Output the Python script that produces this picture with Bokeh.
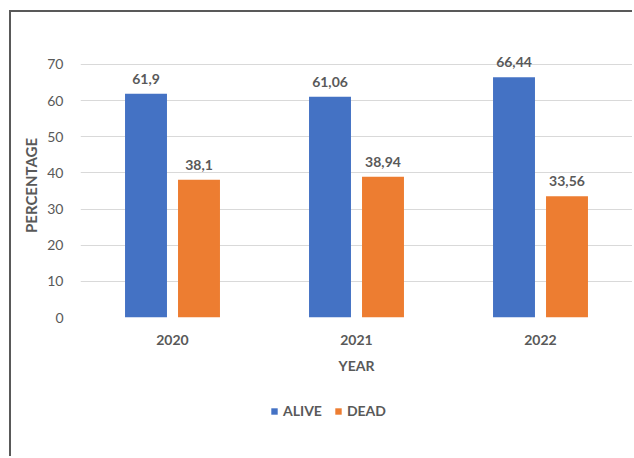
from bokeh.plotting import figure
from bokeh.models import ColumnDataSource, LabelSet, Legend, LegendItem, FactorRange
from bokeh.layouts import column
from bokeh.core.properties import value
from bokeh.transform import dodge
from bokeh.embed import file_html
from bokeh.resources import INLINE

years = ["2020", "2021", "2022"]
alive = [61.9, 61.06, 66.44]
dead = [38.1, 38.94, 33.56]
series = ["ALIVE", "DEAD"]
y_ticks = [0, 10, 20, 30, 40, 50, 60, 70]

BLUE = "#4472C4"
ORANGE = "#ED7D31"
GRAY = "#595959"
FONT = "Lato"
BORDER = "2px solid #595959"

def fmt(v):
    return ("%g" % v).replace(".", ",")

src = ColumnDataSource(dict(
    year=years, alive=alive, dead=dead,
    alive_lbl=[fmt(v) for v in alive], dead_lbl=[fmt(v) for v in dead],
))

p = figure(x_range=FactorRange(*years), y_range=(0, 73),
           width=623, height=373, output_backend="svg", toolbar_location=None,
           min_border_left=69, min_border_right=2, min_border_top=41, min_border_bottom=68)
p.margin = (10, 0, 0, 9)
p.styles = {"border-top": BORDER, "border-left": BORDER}
p.outline_line_color = None
p.background_fill_color = "white"
p.border_fill_color = "white"

off = 0.144
bw = 0.228
p.vbar(x=dodge("year", -off, range=p.x_range), top="alive", width=bw, source=src,
       fill_color=BLUE, line_color=None)
p.vbar(x=dodge("year", off, range=p.x_range), top="dead", width=bw, source=src,
       fill_color=ORANGE, line_color=None)

for col, lbl, o in (("alive", "alive_lbl", -off), ("dead", "dead_lbl", off)):
    ls = LabelSet(x=dodge("year", o, range=p.x_range), y=col, text=lbl, source=src,
                  text_align="center", text_baseline="bottom", y_offset=10,
                  text_font=value(FONT), text_font_style="bold", text_font_size="14px",
                  text_color=GRAY)
    p.add_layout(ls)

p.yaxis.ticker = y_ticks
p.ygrid.ticker = y_ticks
p.xgrid.grid_line_color = None
p.ygrid.grid_line_color = "#D9D9D9"
p.ygrid.grid_line_width = 1

for ax in (p.xaxis[0], p.yaxis[0]):
    ax.axis_line_color = None
    ax.major_tick_line_color = None
    ax.minor_tick_line_color = None
    ax.major_label_text_font = FONT
    ax.major_label_text_font_size = "14px"
    ax.major_label_text_color = GRAY
    ax.axis_label_text_font = FONT
    ax.axis_label_text_font_size = "14px"
    ax.axis_label_text_font_style = "bold"
    ax.axis_label_text_color = GRAY

p.xaxis.major_label_standoff = 11
p.xaxis.major_label_text_font_style = "bold"
p.xaxis.axis_label = "YEAR"
p.xaxis.axis_label_standoff = 9
p.yaxis.major_label_standoff = 11
p.yaxis.axis_label = "PERCENTAGE"
p.yaxis.axis_label_standoff = 4
p.yaxis.axis_label_text_font_size = "15px"

# legend strip below the chart (its bars sit outside its visible range)
q = figure(x_range=FactorRange(*years), y_range=(80, 90),
           width=623, height=73, output_backend="svg", toolbar_location=None,
           x_axis_location=None, y_axis_location=None,
           min_border_left=0, min_border_right=0, min_border_top=0, min_border_bottom=0)
q.margin = (0, 0, 0, 9)
q.styles = {"border-left": BORDER}
q.outline_line_color = None
q.grid.grid_line_color = None
q.background_fill_color = "white"
q.border_fill_color = "white"
k1 = q.vbar(x=dodge("year", -off, range=q.x_range), top="alive", width=bw, source=src,
            fill_color=BLUE, line_color=None)
k2 = q.vbar(x=dodge("year", off, range=q.x_range), top="dead", width=bw, source=src,
            fill_color=ORANGE, line_color=None)

legend = Legend(items=[LegendItem(label=series[0], renderers=[k1]),
                       LegendItem(label=series[1], renderers=[k2])],
                orientation="horizontal", location=(190, 37),
                glyph_width=8, glyph_height=8, label_standoff=5, spacing=12,
                padding=0, margin=0, border_line_color=None, background_fill_alpha=0,
                label_text_font=FONT, label_text_font_size="14px",
                label_text_font_style="bold", label_text_color=GRAY)
q.add_layout(legend, "center")

layout = column(p, q, spacing=0)
open("out.html", "w").write(file_html(layout, INLINE))
